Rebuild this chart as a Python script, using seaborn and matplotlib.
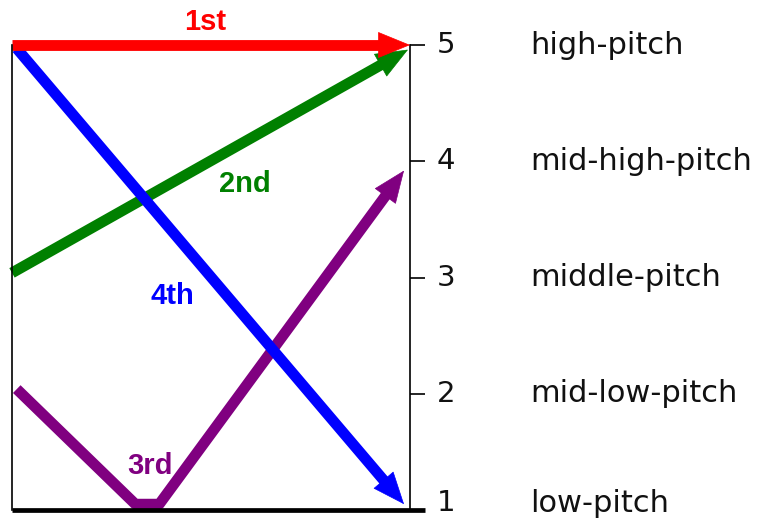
import numpy as np
import pandas as pd
import matplotlib
matplotlib.use("Agg")
import matplotlib.pyplot as plt
import matplotlib.transforms as mtransforms
import seaborn as sns

# ---- data ----
tone_names = ["2nd", "3rd", "4th", "1st"]          # drawing order (bottom -> top)
tone_colors = ["#008000", "#800080", "#0000ff", "#ff0000"]
tone_x = [
    [0.0, 0.995],
    [0.012, 0.31, 0.37, 0.985],
    [0.012, 0.985],
    [0.0, 1.0],
]
tone_y = [
    [3.04, 4.96],
    [2.04, 1.05, 1.05, 3.92],
    [4.97, 1.05],
    [5.0, 5.0],
]
label_pos_x = [0.585, 0.347, 0.402, 0.485]
label_pos_y = [3.80, 1.38, 2.84, 5.20]

pitch_levels = [1, 2, 3, 4, 5]
pitch_labels = ["1", "2", "3", "4", "5"]
pitch_names = ["low-pitch", "mid-low-pitch", "middle-pitch", "mid-high-pitch", "high-pitch"]

# ---- figure ----
sns.set_style("white")
plt.rcParams["font.family"] = ["DejaVu Sans"]

W, H, DPI = 761, 523, 100
fig = plt.figure(figsize=(W / DPI, H / DPI), dpi=DPI)
ax = fig.add_axes([12 / W, 1 - 510 / H, (410 - 12) / W, (510 - 45) / H])
ax.set_xlim(0, 1)
ax.set_ylim(1, 5)

LW = 7.8
HEAD_LEN = 22   # points
HEAD_HW = 9     # points (half width)

rows = []
for name, xs, ys in zip(tone_names, tone_x, tone_y):
    for i, (x, y) in enumerate(zip(xs, ys)):
        rows.append({"tone": name, "x": x, "y": y, "idx": i})
df = pd.DataFrame(rows)

fig.canvas.draw()
trans = ax.transData
inv = trans.inverted()
px_per_pt = DPI / 72.0

for name, color in zip(tone_names, tone_colors):
    sub = df[df.tone == name].sort_values("idx").reset_index(drop=True)
    pts = trans.transform(sub[["x", "y"]].values)
    tip = pts[-1]
    prev = pts[-2]
    d = tip - prev
    d = d / np.hypot(*d)
    short = tip - d * HEAD_LEN * px_per_pt * 0.55
    line_pts = pts.copy()
    line_pts[-1] = short
    line_data = inv.transform(line_pts)
    plot_df = pd.DataFrame({"x": line_data[:, 0], "y": line_data[:, 1]})
    sns.lineplot(data=plot_df, x="x", y="y", sort=False, estimator=None,
                 color=color, lw=LW, ax=ax, solid_capstyle="butt",
                 solid_joinstyle="round", clip_on=False)
    base = inv.transform([tip - d * HEAD_LEN * px_per_pt * 1.2])[0]
    ax.annotate("", xy=(sub.x.iloc[-1], sub.y.iloc[-1]), xytext=tuple(base),
                arrowprops=dict(arrowstyle=f"-|>,head_length={HEAD_LEN},head_width={HEAD_HW}",
                                mutation_scale=1, color=color, lw=0.5,
                                shrinkA=0, shrinkB=0),
                annotation_clip=False)

for name, color, lx, ly in zip(tone_names, tone_colors, label_pos_x, label_pos_y):
    ax.text(lx, ly, name, color=color, fontsize=21, fontweight="bold",
            family=["Liberation Sans", "DejaVu Sans"],
            ha="center", va="center", clip_on=False)

# axes styling
ax.set_xlabel("")
ax.set_ylabel("")
ax.set_xticks([])
ax.yaxis.tick_right()
ax.set_yticks(pitch_levels)
ax.tick_params(axis="y", which="major", right=True, left=False, length=11,
               width=1.2, labelright=False, labelleft=False, direction="out",
               colors="black")
for s in ["top", "bottom"]:
    ax.spines[s].set_visible(False)
for s in ["left", "right"]:
    ax.spines[s].set_visible(True)
    ax.spines[s].set_color("black")
    ax.spines[s].set_linewidth(1.2)

# thick base line extending under the lowest tick
ax.plot([0, 1 + 15 / 398], [0, 0], transform=ax.transAxes, color="black",
        lw=3.4, clip_on=False, solid_capstyle="butt")

yt = ax.get_yaxis_transform()
for v, lab, nm in zip(pitch_levels, pitch_labels, pitch_names):
    # the lowest row sits a little above its tick so it stays inside the picture
    shift = 7 if v == pitch_levels[0] else 0
    tr = yt + mtransforms.ScaledTranslation(0, shift / DPI, fig.dpi_scale_trans)
    ax.text((437 - 12) / 398, v, lab, transform=tr,
            fontsize=21, ha="left", va="center", color="#111111")
    ax.text((530 - 12) / 398, v, nm, transform=tr,
            fontsize=22, ha="left", va="center", color="#111111")

fig.savefig("out.png", dpi=DPI)
